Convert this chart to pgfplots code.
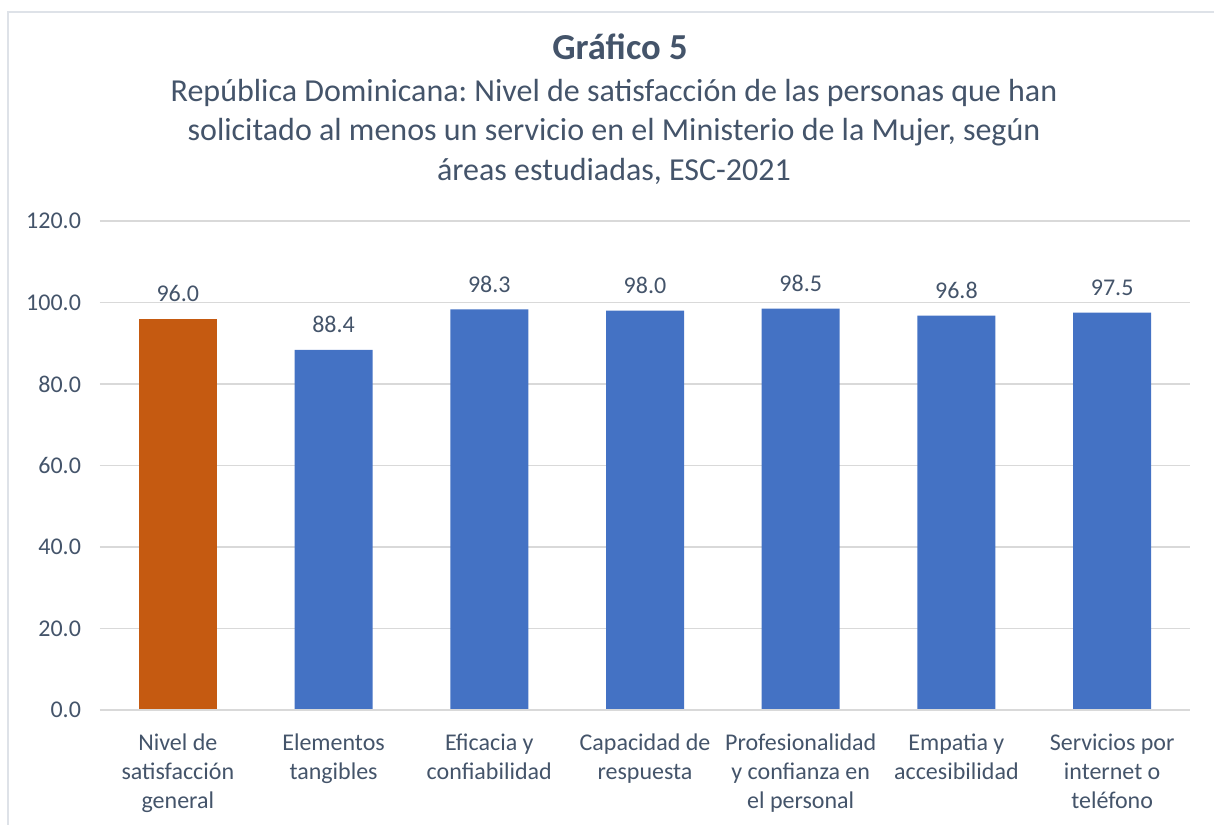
\documentclass[border=0pt]{standalone}
\usepackage{pgfplots}
\pgfplotsset{compat=1.18}
\usepackage{fontspec}
\setmainfont{Carlito}
\frenchspacing
\definecolor{txt}{HTML}{44546A}
\definecolor{gridc}{HTML}{D9D9D9}
\definecolor{frm}{HTML}{DEE2E8}
\definecolor{blue1}{HTML}{4472C4}
\definecolor{orange1}{HTML}{C55A11}
\begin{document}
\begin{tikzpicture}[x=1pt,y=1pt]
\useasboundingbox (-50,-57) rectangle (557,355);
\draw[frm,line width=1pt] (-46,-100) -- (-46,349) -- (700,349);
\begin{axis}[
  at={(0,0)}, anchor=south west,
  scale only axis, width=545pt, height=244.5pt,
  xmin=-0.5, xmax=6.5, ymin=0, ymax=120,
  ytick={0,20,...,120},
  xtick={0,...,6},
  xticklabels={{Nivel de\\satisfacción\\general},{Elementos\\tangibles},{Eficacia y\\confiabilidad},{Capacidad de\\respuesta},{Profesionalidad\\y confianza en\\el personal},{Empatia y\\accesibilidad},{Servicios por\\internet o\\teléfono}},
  xticklabel style={align=center, font=\fontsize{12}{14.5}\selectfont, text=txt, yshift=-8.5pt},
  yticklabel style={font=\fontsize{12}{13}\selectfont, text=txt, xshift=-6pt},
  /pgf/number format/assume math mode=true,
  yticklabel={\pgfmathprintnumber[fixed,fixed zerofill,precision=1]{\tick}},
  ymajorgrids, grid style={gridc, line width=0.8pt},
  axis line style={draw=none},
  axis x line*=bottom,
  major tick length=0pt,
  ybar, bar width=39pt, bar shift=0pt,
  nodes near coords,
  every node near coord/.append style={font=\fontsize{12}{13}\selectfont, text=txt, yshift=5pt},
  nodes near coords={\pgfmathprintnumber[fixed,fixed zerofill,precision=1,assume math mode=true]{\pgfplotspointmeta}},
  clip=false,
]
\addplot[fill=orange1, draw=none] coordinates {(0,96.0)};
\addplot[fill=blue1, draw=none] coordinates {(1,88.4) (2,98.3) (3,98.0) (4,98.5) (5,96.8) (6,97.5)};
\draw[gridc, line width=0.8pt] (rel axis cs:0,0) -- (rel axis cs:1,0);
\end{axis}
\node[text=txt, font=\fontsize{18.3}{20}\selectfont\bfseries] at (260,331.5) {Gráfico 5};
\node[text=txt, font=\fontsize{16}{19.75}\selectfont, align=center, anchor=north] at (257,319) {República Dominicana: Nivel de satisfacción de las personas que han\\solicitado al menos un servicio en el Ministerio de la Mujer, según\\áreas estudiadas, ESC-2021};
\end{tikzpicture}
\end{document}
